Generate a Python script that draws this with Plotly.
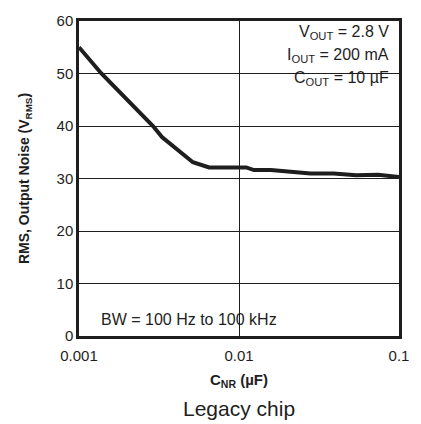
import plotly.graph_objects as go

# Data
c_nr_uF = [0.001, 0.00138, 0.0029, 0.0033, 0.00515, 0.0065, 0.0111, 0.0124, 0.0158, 0.028, 0.039, 0.054, 0.074, 0.1]
noise_uVrms = [55.0, 50.0, 40.0, 37.9, 33.1, 32.1, 32.1, 31.6, 31.6, 30.95, 30.95, 30.6, 30.7, 30.3]

x_tickvals = [0.001, 0.01, 0.1]
x_ticktext = ["0.001", "0.01", "0.1"]
y_tickvals = [0, 10, 20, 30, 40, 50, 60]

conditions = ["V<sub>OUT</sub> = 2.8 V", "I<sub>OUT</sub> = 200 mA", "C<sub>OUT</sub> = 10 µF"]
bw_label = "BW = 100 Hz to 100 kHz"
chart_title = "Legacy chip"

FONT = "Liberation Sans, Arial, sans-serif"
INK = "#1e1e1e"

fig = go.Figure()
fig.add_trace(go.Scatter(
    x=c_nr_uF, y=noise_uVrms, mode="lines",
    line=dict(color=INK, width=4), hoverinfo="skip", showlegend=False,
))

# white masks that interrupt the grid behind the text blocks
fig.add_shape(type="rect", xref="paper", yref="paper", x0=0.58, x1=1.0, y0=0.80, y1=0.99,
              fillcolor="white", line=dict(width=0), layer="between")
fig.add_shape(type="rect", xref="paper", yref="paper", x0=0.06, x1=0.62, y0=0.0, y1=0.093,
              fillcolor="white", line=dict(width=0), layer="between")

for i, t in enumerate(conditions):
    fig.add_annotation(text=t, xref="paper", yref="paper", x=0.975, y=0.963 - i * 0.0728,
                       xanchor="right", yanchor="middle", showarrow=False,
                       font=dict(family=FONT, size=16, color=INK))

fig.add_annotation(text=bw_label, xref="paper", yref="paper", x=0.064, y=0.052,
                   xanchor="left", yanchor="middle", showarrow=False,
                   font=dict(family=FONT, size=16, color=INK))

fig.add_annotation(text=chart_title, xref="paper", yref="paper", x=0.5, y=-0.229,
                   xanchor="center", yanchor="middle", showarrow=False,
                   font=dict(family=FONT, size=21, color=INK))

fig.update_layout(
    width=421, height=424,
    margin=dict(l=79, r=18, t=13, b=88),
    paper_bgcolor="white", plot_bgcolor="white",
    font=dict(family=FONT, size=15, color=INK),
    xaxis=dict(
        type="log", range=[-3, -1], tickvals=x_tickvals, ticktext=x_ticktext,
        showgrid=True, gridcolor=INK, gridwidth=1,
        showline=True, mirror=True, linecolor=INK, linewidth=2.5,
        ticks="inside", ticklen=3, tickcolor=INK, ticklabelstandoff=4,
        tickfont=dict(family=FONT, size=15, color=INK),
        title=dict(text="<b>C<sub>NR</sub> (µF)</b>", standoff=12,
                   font=dict(family=FONT, size=15, color=INK)),
        zeroline=False,
    ),
    yaxis=dict(
        range=[0, 60], tickvals=y_tickvals,
        showgrid=True, gridcolor=INK, gridwidth=1,
        showline=True, mirror=True, linecolor=INK, linewidth=2.5,
        ticks="", tickfont=dict(family=FONT, size=15, color=INK),
        title=dict(text="<b>RMS, Output Noise (V<sub>RMS</sub>)</b>", standoff=24,
                   font=dict(family=FONT, size=14, color=INK)),
        zeroline=False,
    ),
)

fig.write_html("out.html", config={"displayModeBar": False},
               post_script="document.body.style.margin='0';document.body.style.overflow='hidden';")
